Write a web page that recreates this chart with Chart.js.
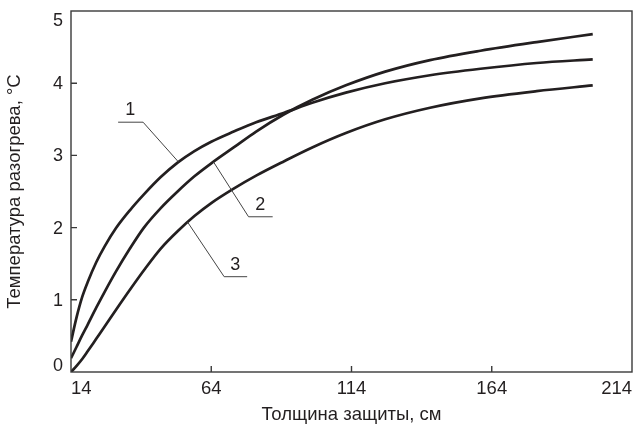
<!DOCTYPE html>
<html>
<head>
<meta charset="utf-8">
<script src="https://cdn.jsdelivr.net/npm/chart.js@4.4.1/dist/chart.umd.min.js"></script>
<style>
  html, body { margin: 0; padding: 0; background: #fff; }
  #wrap { width: 633px; height: 426px; }
</style>
</head>
<body>
<div id="wrap"><canvas id="heatChart" width="633" height="426"></canvas></div>
<script>
// shield thickness, cm
var thickness = [14, 16, 18, 20, 23, 26, 30, 35, 40, 46, 52, 58, 64, 72, 80, 90, 100, 112, 126, 142, 160, 180, 200];
// heating temperature, °C
var heat1 = [0.42, 0.76, 1.04, 1.25, 1.52, 1.74, 1.99, 2.24, 2.46, 2.70, 2.90, 3.06, 3.19, 3.33, 3.46, 3.59, 3.73, 3.87, 4.00, 4.11, 4.20, 4.28, 4.33];
var heat2 = [0.19, 0.35, 0.51, 0.66, 0.89, 1.11, 1.39, 1.71, 2.00, 2.27, 2.50, 2.71, 2.89, 3.11, 3.33, 3.57, 3.77, 3.97, 4.16, 4.32, 4.45, 4.57, 4.68];
var heat3 = [0.0, 0.085, 0.18, 0.29, 0.46, 0.63, 0.86, 1.14, 1.41, 1.71, 1.95, 2.16, 2.34, 2.54, 2.72, 2.92, 3.11, 3.31, 3.50, 3.66, 3.79, 3.89, 3.97];

var curveNames = ["1", "2", "3"];
var xTicks = [14, 64, 114, 164, 214];
var yTicks = [0, 1, 2, 3, 4, 5];

var INK = "#231f20";
var FONT = "'Liberation Sans', Arial, sans-serif";

function toPoints(xs, ys) {
  return xs.map(function(x, i) { return { x: x, y: ys[i] }; });
}

function curve(name, ys) {
  return {
    label: name,
    data: toPoints(thickness, ys),
    borderColor: INK,
    borderWidth: 2.7,
    pointRadius: 0,
    fill: false,
    cubicInterpolationMode: "monotone"
  };
}

// number labels with leader lines, in data units: shelf start, elbow, touch point on the curve
var leaders = [
  { text: curveNames[0], pts: [[30.8, 3.46], [39.7, 3.46], [52.3, 2.91]], at: [35.1, 3.46] },
  { text: curveNames[1], pts: [[85.9, 2.15], [77.3, 2.15], [64.8, 2.91]], at: [81.5, 2.15] },
  { text: curveNames[2], pts: [[76.8, 1.32], [68.6, 1.32], [55.5, 2.08]], at: [72.6, 1.32] }
];

var framePlugin = {
  id: "frame",
  afterDraw: function(chart) {
    var ctx = chart.ctx;
    var a = chart.chartArea;
    var xs = chart.scales.x;
    var ys = chart.scales.y;
    ctx.save();

    // plot box
    ctx.strokeStyle = "#3a3a3a";
    ctx.lineWidth = 1.4;
    ctx.strokeRect(a.left, a.top, a.right - a.left, a.bottom - a.top);

    // inward tick marks
    ctx.beginPath();
    yTicks.forEach(function(v) {
      if (v === ys.min || v === ys.max) return;
      var py = ys.getPixelForValue(v);
      ctx.moveTo(a.left, py);
      ctx.lineTo(a.left + 6, py);
    });
    xTicks.forEach(function(v) {
      if (v === xs.min || v === xs.max) return;
      var px = xs.getPixelForValue(v);
      ctx.moveTo(px, a.bottom);
      ctx.lineTo(px, a.bottom - 6);
    });
    ctx.stroke();

    // y tick labels, end labels pulled inside the box
    ctx.fillStyle = INK;
    ctx.font = "18px " + FONT;
    ctx.textAlign = "right";
    yTicks.forEach(function(v) {
      var py = ys.getPixelForValue(v);
      ctx.textBaseline = v === ys.min ? "bottom" : (v === ys.max ? "top" : "middle");
      var dy = v === ys.min ? 3 : 1;
      ctx.fillText(String(v), a.left - 8, py + dy);
    });

    // curve numbers
    ctx.strokeStyle = "#444";
    ctx.lineWidth = 1;
    leaders.forEach(function(l) {
      ctx.beginPath();
      l.pts.forEach(function(p, i) {
        var px = xs.getPixelForValue(p[0]);
        var py = ys.getPixelForValue(p[1]);
        if (i === 0) ctx.moveTo(px, py); else ctx.lineTo(px, py);
      });
      ctx.stroke();
      ctx.textAlign = "center";
      ctx.textBaseline = "bottom";
      ctx.font = "18px " + FONT;
      ctx.fillText(l.text, xs.getPixelForValue(l.at[0]), ys.getPixelForValue(l.at[1]) - 3);
    });
    ctx.restore();
  }
};

new Chart(document.getElementById("heatChart"), {
  type: "line",
  data: {
    datasets: [
      curve(curveNames[0], heat1),
      curve(curveNames[1], heat2),
      curve(curveNames[2], heat3)
    ]
  },
  options: {
    responsive: false,
    animation: false,
    devicePixelRatio: 1,
    layout: { padding: { top: 11, right: 1, left: 0, bottom: 0 } },
    plugins: { legend: { display: false }, tooltip: { enabled: false } },
    scales: {
      x: {
        type: "linear",
        min: 14,
        max: 214,
        afterBuildTicks: function(s) { s.ticks = xTicks.map(function(v) { return { value: v }; }); },
        afterFit: function(s) { s.height = 54; s.paddingLeft = 0; s.paddingRight = 0; },
        grid: { display: false, drawTicks: false },
        border: { display: false },
        ticks: { align: "inner", padding: 6, color: INK, font: { family: FONT, size: 18.5 } },
        title: {
          display: true,
          text: "Толщина защиты, см",
          color: INK,
          font: { family: FONT, size: 18.5 },
          padding: { top: 0, bottom: 0 }
        }
      },
      y: {
        min: 0,
        max: 5,
        afterBuildTicks: function(s) { s.ticks = yTicks.map(function(v) { return { value: v }; }); },
        afterFit: function(s) { s.width = 71; s.paddingTop = 0; s.paddingBottom = 0; },
        grid: { display: false, drawTicks: false },
        border: { display: false },
        ticks: { display: false },
        title: {
          display: true,
          text: "Температура разогрева, °C",
          color: INK,
          font: { family: FONT, size: 18.5 },
          padding: { top: 4, bottom: 0 }
        }
      }
    }
  },
  plugins: [framePlugin]
});
</script>
</body>
</html>
